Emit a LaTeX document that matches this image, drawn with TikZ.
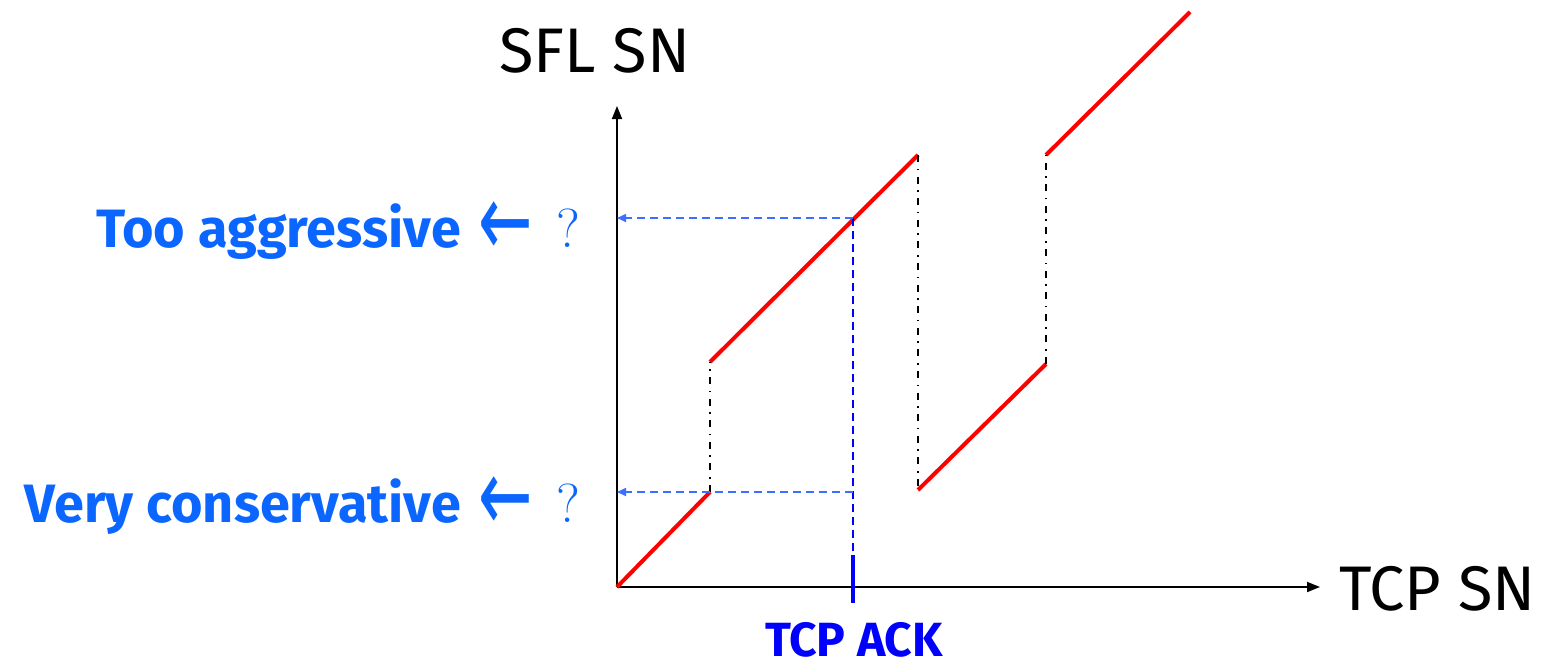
\documentclass[tikz,border=0pt]{standalone}
\usepackage{fontspec}
\usepackage{graphicx}
\setmainfont{Fira Sans}
\newfontfamily\arrowfont{DejaVu Sans}
\newfontfamily\qfont{Latin Modern Roman}
\usetikzlibrary{arrows.meta}
\definecolor{labelblue}{RGB}{10,102,255}
\definecolor{guideblue}{RGB}{60,110,255}
\definecolor{ackblue}{RGB}{0,0,255}
\newcommand{\leftarr}{\scalebox{1.25}[2.0]{\fontsize{52}{60}\selectfont\arrowfont ←}}
\begin{document}
\begin{tikzpicture}[x=1pt,y=-1pt,
  axis/.style={line width=1.8pt,-{Triangle[length=13pt,width=10pt]}},
  curve/.style={red,line width=4pt},
  jump/.style={black,line width=1.6pt,dash pattern=on 7pt off 6.5pt on 1.6pt off 6.5pt},
  guide/.style={guideblue,line width=1.6pt,dash pattern=on 8pt off 5pt},
  guidearrow/.style={guide,-{Triangle[length=9pt,width=8pt]}},
  axislabel/.style={font=\fontsize{63}{70}\selectfont,inner sep=0pt},
  sidelabel/.style={font=\fontsize{54}{60}\selectfont\bfseries,text=labelblue,inner sep=0pt},
  arrowlabel/.style={text=labelblue,inner sep=0pt},
  qmark/.style={font=\fontsize{55}{60}\selectfont\qfont,text=labelblue,inner sep=0pt}]
  \useasboundingbox (0,0) rectangle (1547,667);

  % axes
  \coordinate (O) at (617,587);
  \coordinate (ytop) at (617,106);
  \coordinate (xend) at (1320,587);
  \draw[axis] (O) -- (ytop);
  \draw[axis] (O) -- (xend);
  \node[axislabel,anchor=base] (ylab) at (595,72) {SFL SN};
  \node[axislabel,anchor=base west] (xlab) at (1339,610) {TCP SN};

  % sequence-number mapping
  \coordinate (a1) at (710,492);
  \coordinate (a2) at (710,362);
  \coordinate (b1) at (918,155);
  \coordinate (b2) at (918,490);
  \coordinate (c1) at (1046,364);
  \coordinate (c2) at (1046,155);
  \coordinate (d1) at (1190,12);
  \draw[curve] (O) -- (a1);
  \draw[curve] (a2) -- (b1);
  \draw[curve] (b2) -- (c1);
  \draw[curve] (c2) -- (d1);
  \draw[jump] (a1) -- (a2);
  \draw[jump] (b1) -- (b2);
  \draw[jump] (c1) -- (c2);

  % TCP ACK position and its projections
  \coordinate (ackhi) at (853,218);
  \coordinate (acklo) at (853,492);
  \coordinate (ackbot) at (853,556);
  \coordinate (hiaxis) at (617,218);
  \coordinate (loaxis) at (617,492);
  \draw[guide,ackblue] (ackhi) -- (ackbot);
  \draw[guidearrow] (ackhi) -- (hiaxis);
  \draw[guidearrow] (acklo) -- (loaxis);
  \coordinate (ticktop) at (853,555);
  \coordinate (tickbot) at (853,603);
  \draw[ackblue,line width=4pt] (ticktop) -- (tickbot);
  \node[font=\fontsize{48}{54}\selectfont\bfseries,text=ackblue,inner sep=0pt,anchor=base] (acklab) at (854,656) {TCP ACK};

  % side labels
  \node[sidelabel,anchor=base east] (aggr) at (461,247) {Too aggressive};
  \node[sidelabel,anchor=base east] (cons) at (461,522) {Very conservative};
  \node[arrowlabel,anchor=west] (arrhi) at (478,229) {\leftarr};
  \node[arrowlabel,anchor=west] (arrlo) at (478,504) {\leftarr};
  \node[qmark,anchor=base west] (qhi) at (556,247) {?};
  \node[qmark,anchor=base west] (qlo) at (556,522) {?};
\end{tikzpicture}
\end{document}
